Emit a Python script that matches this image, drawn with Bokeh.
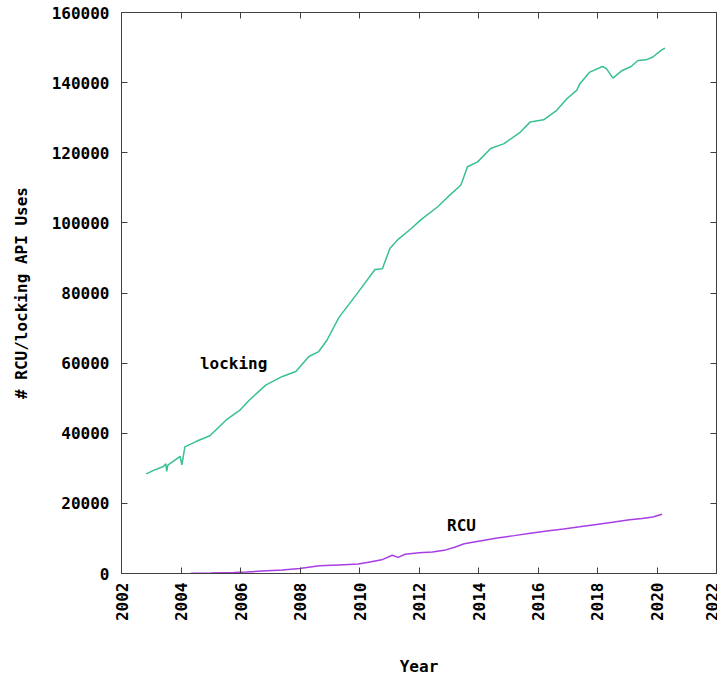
from bokeh.plotting import figure
from bokeh.models import ColumnDataSource, LinearAxis, FixedTicker, Range1d, BasicTickFormatter
from bokeh.core.properties import value
from bokeh.embed import file_html
from bokeh.resources import INLINE

# ---- data ----
locking_year = [2002.83, 2003.08, 2003.41, 2003.49, 2003.52, 2003.56, 2003.97, 2004.03, 2004.13,
                2004.52, 2004.97, 2005.52, 2005.97, 2006.30, 2006.86, 2007.41, 2007.86, 2008.30,
                2008.63, 2008.91, 2009.30, 2009.63, 2009.97, 2010.52, 2010.77, 2011.02, 2011.30,
                2011.74, 2012.08, 2012.63, 2012.97, 2013.41, 2013.63, 2013.97, 2014.41, 2014.86,
                2015.41, 2015.74, 2016.19, 2016.63, 2016.97, 2017.30, 2017.41, 2017.74, 2018.17,
                2018.30, 2018.52, 2018.80, 2019.13, 2019.36, 2019.63, 2019.86, 2020.17, 2020.27]
locking_uses = [28400, 29400, 30500, 31300, 29100, 30900, 33400, 31000, 36100,
                37700, 39300, 43800, 46500, 49500, 53800, 56200, 57600, 61900,
                63300, 66600, 72900, 76600, 80400, 86700, 86900, 92700, 95300,
                98400, 101000, 104600, 107400, 110800, 116000, 117400, 121200, 122600,
                125900, 128800, 129400, 132100, 135400, 137800, 139700, 143000, 144600,
                144000, 141300, 143300, 144600, 146300, 146500, 147300, 149400, 149800]

rcu_year = [2004.34, 2005.00, 2005.77, 2006.20, 2006.75, 2007.40, 2007.99, 2008.65, 2009.30,
            2009.96, 2010.30, 2010.75, 2011.10, 2011.30, 2011.53, 2012.00, 2012.45, 2012.85,
            2013.20, 2013.52, 2014.00, 2014.63, 2015.20, 2015.74, 2016.30, 2016.86, 2017.40,
            2017.97, 2018.50, 2019.08, 2019.50, 2019.86, 2020.17]
rcu_uses = [100, 150, 300, 450, 700, 1000, 1450, 2200, 2450,
            2700, 3200, 3900, 5200, 4600, 5500, 5900, 6100, 6600,
            7500, 8500, 9200, 10100, 10800, 11500, 12100, 12700, 13300,
            14000, 14600, 15300, 15700, 16100, 16900]

label_text = ["locking", "RCU"]
label_year = [2005.77, 2013.43]
label_uses = [59800, 13600]

x_ticks = [2002, 2004, 2006, 2008, 2010, 2012, 2014, 2016, 2018, 2020, 2022]
y_ticks = [0, 20000, 40000, 60000, 80000, 100000, 120000, 140000, 160000]

FONT = "DejaVu Sans Mono"

p = figure(width=717, height=679, output_backend="svg", toolbar_location=None,
           x_range=Range1d(2002, 2022), y_range=Range1d(0, 160000),
           min_border_left=121, min_border_right=1, min_border_top=12, min_border_bottom=105,
           x_axis_label="Year", y_axis_label="# RCU/locking API Uses")
p.xgrid.visible = False
p.ygrid.visible = False
p.outline_line_color = "#404040"
p.outline_line_width = 1
p.background_fill_color = "white"
p.border_fill_color = "white"

src_l = ColumnDataSource(dict(x=locking_year, y=locking_uses))
src_r = ColumnDataSource(dict(x=rcu_year, y=rcu_uses))
p.line("x", "y", source=src_l, line_color="#38c090", line_width=1.5)
p.line("x", "y", source=src_r, line_color="#a83ee4", line_width=1.5)

src_t = ColumnDataSource(dict(x=label_year, y=label_uses, t=label_text))
p.text("x", "y", text="t", source=src_t, text_font=value(FONT), text_font_style="bold",
       text_font_size="16px", text_align="center", text_baseline="middle", text_color="black")

def style_axis(ax, ticks):
    ax.ticker = FixedTicker(ticks=ticks)
    ax.minor_tick_line_color = None
    ax.major_tick_in = 6
    ax.major_tick_out = 0
    ax.axis_line_color = "#404040"
    ax.major_tick_line_color = "#404040"
    ax.major_label_text_font = FONT
    ax.major_label_text_font_style = "bold"
    ax.major_label_text_font_size = "16px"
    ax.major_label_text_color = "black"
    ax.axis_label_text_font = FONT
    ax.axis_label_text_font_style = "bold"
    ax.axis_label_text_font_size = "16px"
    ax.axis_label_text_color = "black"

xa = p.xaxis[0]
style_axis(xa, x_ticks)
xa.major_label_orientation = 1.5707963
xa.major_label_standoff = 9
xa.axis_label_standoff = 33

ya = p.yaxis[0]
style_axis(ya, y_ticks)
ya.formatter = BasicTickFormatter(use_scientific=False)
ya.major_label_standoff = 12
ya.axis_label_standoff = 18

for loc, ticks in (("above", x_ticks), ("right", y_ticks)):
    ax = LinearAxis()
    style_axis(ax, ticks)
    ax.major_label_text_font_size = "0px"
    ax.major_label_text_alpha = 0
    ax.major_label_standoff = 0
    ax.axis_label = None
    p.add_layout(ax, loc)

open("out.html", "w").write(file_html(p, INLINE))
